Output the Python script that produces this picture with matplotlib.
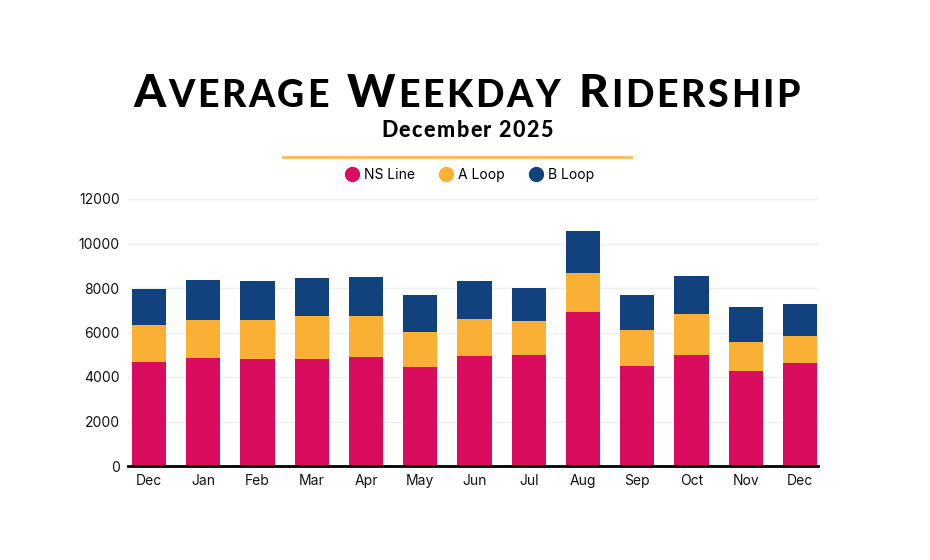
import matplotlib
matplotlib.use("Agg")
import matplotlib.pyplot as plt
import numpy as np
from matplotlib.lines import Line2D

months = ["Dec", "Jan", "Feb", "Mar", "Apr", "May", "Jun", "Jul", "Aug", "Sep", "Oct", "Nov", "Dec"]
ns_line = [4670, 4860, 4830, 4830, 4910, 4460, 4950, 5010, 6920, 4500, 5000, 4260, 4620]
a_loop = [1650, 1700, 1720, 1900, 1810, 1550, 1640, 1510, 1740, 1610, 1830, 1310, 1220]
b_loop = [1630, 1810, 1780, 1720, 1760, 1670, 1720, 1470, 1910, 1570, 1710, 1570, 1430]
series_names = ["NS Line", "A Loop", "B Loop"]
colors = ["#DA0C5E", "#FAAF35", "#11427D"]
yticks = [0, 2000, 4000, 6000, 8000, 10000, 12000]

W, H = 930, 560
fig = plt.figure(figsize=(W / 100, H / 100), dpi=100)
fig.patch.set_facecolor("white")

ax = fig.add_axes([128 / W, 1 - 466 / H, (818 - 128) / W, (466 - 199) / H])
x = np.arange(len(months))
bottom = np.zeros(len(months))
for vals, c, name in zip([ns_line, a_loop, b_loop], colors, series_names):
    ax.bar(x, vals, width=0.63, bottom=bottom, color=c, label=name, zorder=3)
    bottom += np.array(vals)

ax.set_xlim(-0.387, 12.33)
ax.set_ylim(0, 12000)
ax.set_yticks(yticks)
ax.set_xticks(x)
ax.set_xticklabels(months)
ax.yaxis.grid(True, color="#EFEFEF", linewidth=1, zorder=0)
for s in ["top", "right", "left"]:
    ax.spines[s].set_visible(False)
ax.spines["bottom"].set_linewidth(2)
ax.spines["bottom"].set_color("black")
ax.spines["bottom"].set_zorder(5)
ax.tick_params(axis="both", length=0, labelsize=10, labelcolor="#111111", labelfontfamily="Inter")
ax.tick_params(axis="y", pad=6)
ax.tick_params(axis="x", pad=6)

# Legend
leg_handles = [Line2D([0], [0], marker="o", linestyle="none", markersize=10,
                      markerfacecolor=c, markeredgecolor=c) for c in colors]
fig.legend(leg_handles, series_names, loc="center", bbox_to_anchor=(469 / W, 1 - 175 / H),
           ncol=3, frameon=False, prop={"family": "Inter", "size": 10},
           handletextpad=0.3, columnspacing=1.6, handlelength=1.2)

# Orange divider line
fig.add_artist(Line2D([283 / W, 631 / W], [1 - 157 / H, 1 - 157 / H], color="#F9C060",
                      linewidth=2.2, transform=fig.transFigure))

renderer = fig.canvas.get_renderer()


def tracked_text(text, sizes, x0, x1, base_px, weight="black", space_factor=1.2):
    widths = []
    for ch, sz in zip(text, sizes):
        t = fig.text(0, 0, "I" if ch == " " else ch, fontsize=sz, fontweight=weight, family="Lato")
        w = t.get_window_extent(renderer).width * (space_factor if ch == " " else 1.0)
        t.remove()
        widths.append(w)
    track = ((x1 - x0) - sum(widths)) / (len(text) - 1)
    xpos = x0
    for (ch, sz), w in zip(zip(text, sizes), widths):
        if ch != " ":
            fig.text(xpos / W, 1 - base_px / H, ch, fontsize=sz, fontweight=weight, family="Lato",
                     ha="left", va="baseline", color="black")
        xpos += w + track


# Title in small caps
title = "Average Weekday Ridership"
big, small = 33, 27
chars, sizes = [], []
for word_i, word in enumerate(title.split(" ")):
    if word_i > 0:
        chars.append(" "); sizes.append(small)
    chars.append(word[0].upper()); sizes.append(big)
    for ch in word[1:]:
        chars.append(ch.upper()); sizes.append(small)
tracked_text(chars, sizes, 133, 800, 107)

# Subtitle
sub = "December 2025"
tracked_text(list(sub), [15.5] * len(sub), 381, 553, 137, space_factor=0.7)

fig.savefig("out.png", dpi=100, facecolor="white")
